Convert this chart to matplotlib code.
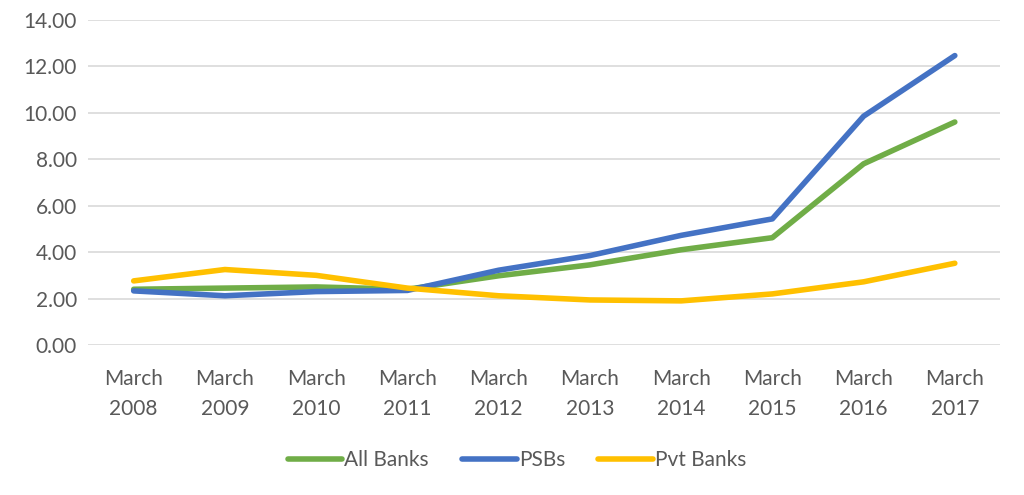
import matplotlib.pyplot as plt

# Data
years = ['March\n2008', 'March\n2009', 'March\n2010', 'March\n2011', 'March\n2012',
         'March\n2013', 'March\n2014', 'March\n2015', 'March\n2016', 'March\n2017']
all_banks = [2.40, 2.45, 2.50, 2.40, 2.98, 3.45, 4.10, 4.62, 7.80, 9.60]
psbs = [2.33, 2.12, 2.30, 2.35, 3.22, 3.85, 4.72, 5.43, 9.85, 12.46]
pvt_banks = [2.76, 3.25, 3.00, 2.45, 2.12, 1.94, 1.90, 2.20, 2.72, 3.52]

plt.rcParams['font.family'] = ['Lato', 'DejaVu Sans']

fig = plt.figure(figsize=(10.24, 4.95), dpi=100)
ax = fig.add_axes([0.086, 0.303, 0.891, 0.657])

x = range(len(years))
ax.plot(x, all_banks, color='#70ad47', lw=4, solid_capstyle='round', label='All Banks')
ax.plot(x, psbs, color='#4472c4', lw=4, solid_capstyle='round', label='PSBs')
ax.plot(x, pvt_banks, color='#ffc000', lw=4, solid_capstyle='round', label='Pvt Banks')

ax.set_xlim(-0.5, len(years) - 0.5)
ax.set_ylim(0, 14)
ax.set_yticks(range(0, 15, 2))
ax.set_yticklabels([f'{v:.2f}' for v in range(0, 15, 2)])
ax.set_xticks(list(x))
ax.set_xticklabels(years, linespacing=1.65)
ax.grid(axis='y', color='#d9d9d9', lw=1.2)
ax.set_axisbelow(True)
for s in ax.spines.values():
    s.set_visible(False)
ax.tick_params(length=0, labelsize=15, colors='#595959')
ax.tick_params(axis='x', pad=17)
ax.tick_params(axis='y', pad=8)

fig.legend(*ax.get_legend_handles_labels(), loc='center', bbox_to_anchor=(0.505, 0.07),
           ncol=3, frameon=False, fontsize=15, labelcolor='#595959', handlelength=2.6,
           handletextpad=0.1, columnspacing=1.6)

plt.savefig('out.png', dpi=100)
